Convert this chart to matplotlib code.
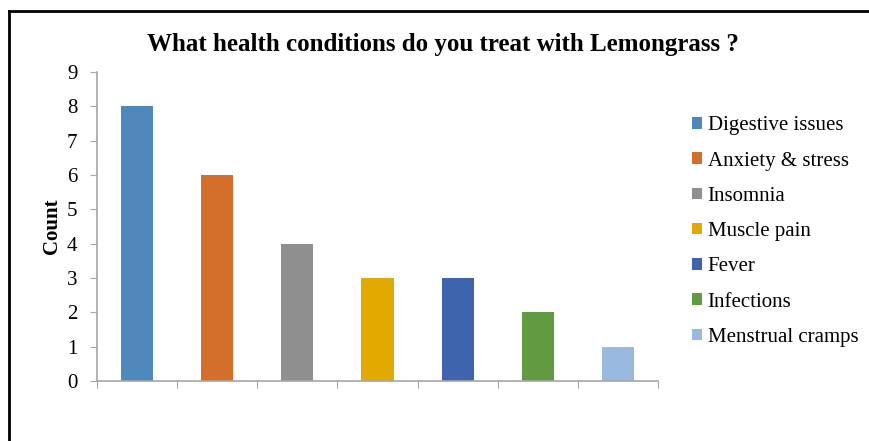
import numpy as np
import matplotlib.pyplot as plt
from matplotlib.lines import Line2D

conditions = ["Digestive issues", "Anxiety & stress", "Insomnia", "Muscle pain",
              "Fever", "Infections", "Menstrual cramps"]
counts = [8, 6, 4, 3, 3, 2, 1]
colors = ["#4F88BB", "#D36F2B", "#8F8F8F", "#E2AA00", "#3D64AD", "#629A41", "#9AB9DF"]

plt.rcParams['font.family'] = ['Liberation Serif', 'DejaVu Serif']

fig = plt.figure(figsize=(8.69, 4.41), dpi=100)
ax = fig.add_axes([97 / 869, 1 - 381 / 441, 561 / 869, 309 / 441])

x = np.arange(len(conditions))
bars = ax.bar(x, counts, width=0.4, color=colors, label=conditions)

ax.set_xlim(-0.5, len(conditions) - 0.5)
ax.set_ylim(0, 9)
ax.set_yticks(range(0, 10))
ax.set_xticks(np.arange(-0.5, len(conditions), 1.0))
ax.set_xticklabels([])
ax.tick_params(axis='y', labelsize=15, length=5, color='#A6A6A6', pad=9)
ax.tick_params(axis='x', length=5, color='#A6A6A6')
for s in ['top', 'right']:
    ax.spines[s].set_visible(False)
for s in ['left', 'bottom']:
    ax.spines[s].set_color('#A6A6A6')
    ax.spines[s].set_linewidth(1.2)

ax.set_ylabel("Count", fontsize=15, fontweight='bold', labelpad=4)
fig.suptitle("What health conditions do you treat with Lemongrass ?",
             x=443 / 869, y=1 - 44 / 441, va='center', fontsize=18, fontweight='bold')

ax.legend(handles=list(bars), labels=conditions, loc='upper left',
          bbox_to_anchor=(684 / 869, 1 - 108 / 441), bbox_transform=fig.transFigure,
          frameon=False, fontsize=15, handlelength=0.48, handleheight=0.48,
          handletextpad=0.25, labelspacing=0.78, borderaxespad=0)

# outer border (top and left visible in the reference)
fig.add_artist(Line2D([9 / 869, 9 / 869], [0, 1 - 11 / 441], color='black', lw=2))
fig.add_artist(Line2D([9 / 869, 1], [1 - 11 / 441, 1 - 11 / 441], color='black', lw=2))

fig.savefig("out.png", dpi=100)
